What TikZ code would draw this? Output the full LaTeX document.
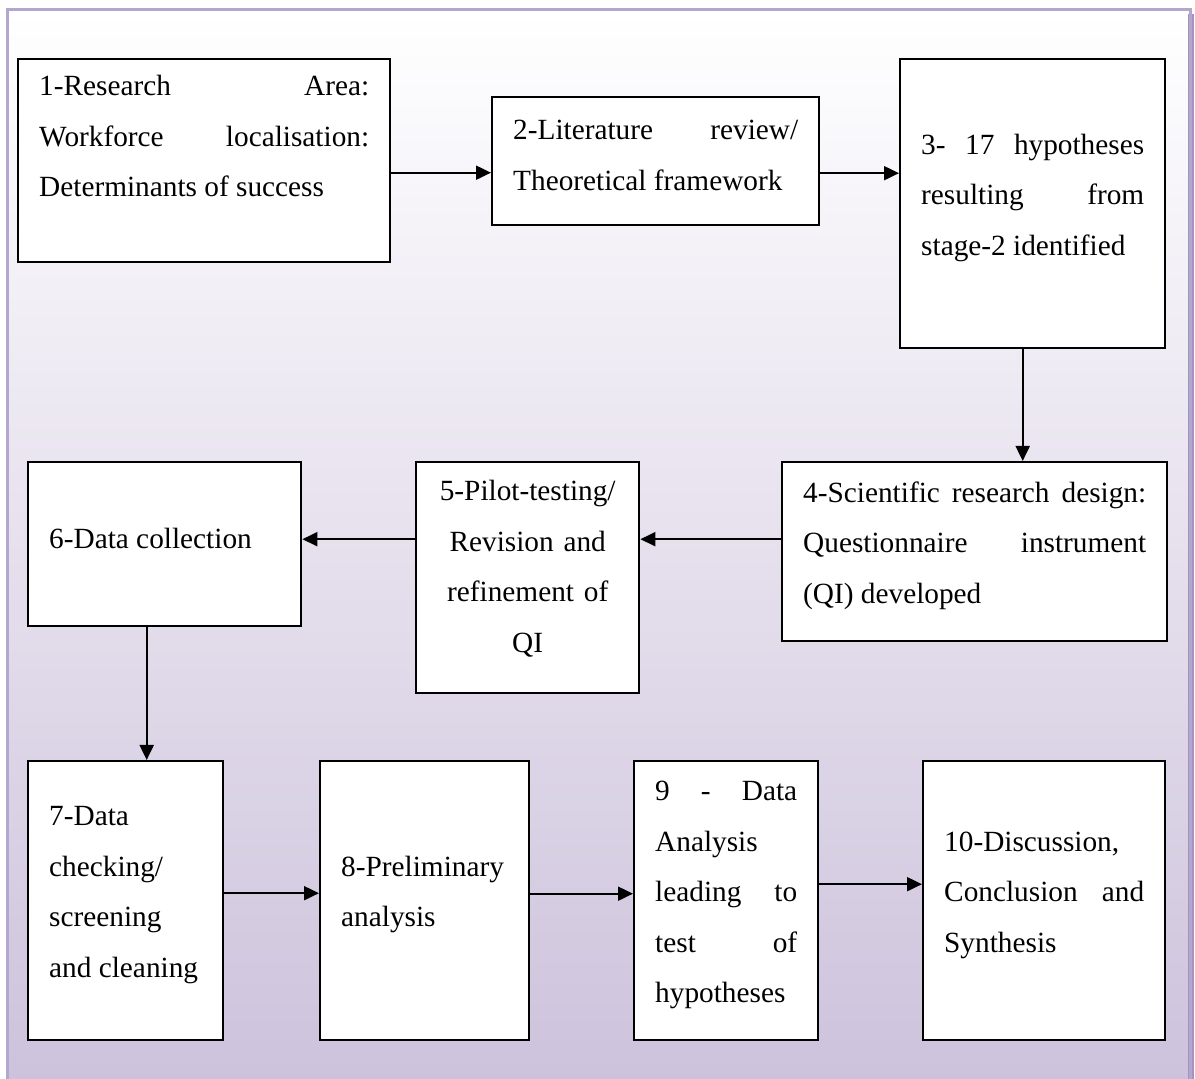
\documentclass[tikz,border=0pt]{standalone}
\usepackage{fontspec}
\usepackage{xcolor}
\usepackage{tikz}
\usetikzlibrary{arrows.meta}
\setmainfont{Liberation Serif}
\definecolor{frameline}{HTML}{B4A7CF}
\definecolor{frameshade}{HTML}{A393BF}
\definecolor{lavender}{HTML}{CCC1DB}
\tolerance=10000
\hbadness=10000
\hyphenpenalty=10000

\begin{document}
\begin{tikzpicture}[x=0.5pt,y=-0.5pt,
  stage/.style={draw, line width=1.2pt, fill=white, anchor=north west,
    align=justify, text height=4pt, font=\fontsize{14.65}{25.25}\selectfont},
  flow/.style={line width=1pt, -{Triangle[length=7.5pt,width=7pt]}}]
  \useasboundingbox (0,0) rectangle (1195,1079);
  \clip (0,0) rectangle (1195,1079);
  \shade[top color=white, bottom color=lavender] (7,10) rectangle (1190,1100);
  \fill[frameshade] (1188,14) rectangle (1194,1100);
  \draw[frameline, line width=1.5pt] (7,10) rectangle (1190,1100);

  \node[stage, text height=0pt, text depth=65pt, minimum width=186pt, minimum height=101.5pt, text width=165pt] (s1) at (17,58)
    {1-Research Area:\linebreak Workforce localisation:\linebreak Determinants of success};
  \node[stage, minimum width=163.5pt, minimum height=64pt, text width=142.5pt] (s2) at (491,96)
    {2-Literature review/\linebreak Theoretical framework};
  \node[stage, minimum width=132.5pt, minimum height=144.5pt, text width=111.5pt] (s3) at (899,58)
    {3- 17 hypotheses\linebreak resulting from\linebreak stage-2 identified};
  \node[stage, minimum width=192.5pt, minimum height=89.5pt, text width=171.5pt] (s4) at (781,461)
    {4-Scientific research design:\linebreak Questionnaire instrument\linebreak (QI) developed};
  \node[stage, align=center, text height=1pt, minimum width=111.5pt, minimum height=115.5pt, text width=100pt] (s5) at (415,461)
    {5-Pilot-testing/\\Revision and\\refinement of\\QI};
  \node[stage, minimum width=136.5pt, minimum height=82pt, text width=115.5pt] (s6) at (27,461)
    {6-Data collection};
  \node[stage, minimum width=97.5pt, minimum height=139.5pt, text width=76.5pt] (s7) at (27,760)
    {7-Data\linebreak checking/\linebreak screening\linebreak and cleaning};
  \node[stage, minimum width=104.5pt, minimum height=139.5pt, text width=83.5pt] (s8) at (319,760)
    {8-Preliminary\linebreak analysis};
  \node[stage, minimum width=92pt, minimum height=139.5pt, text width=71pt] (s9) at (633,760)
    {9 - Data\linebreak Analysis\linebreak leading to\linebreak test of\linebreak hypotheses};
  \node[stage, minimum width=121pt, minimum height=139.5pt, text width=100pt] (s10) at (922,760)
    {10-Discussion,\linebreak Conclusion and\linebreak Synthesis};

  \draw[flow] ([yshift=-6pt]s1.east) -- ([yshift=-6pt]s1.east -| s2.west);
  \draw[flow] ([yshift=-6pt]s2.east) -- ([yshift=-6pt]s2.east -| s3.west);
  \draw[flow] ([xshift=-5pt]s3.south) -- ([xshift=-5pt]s3.south |- s4.north);
  \draw[flow] ([yshift=6.25pt]s4.west) -- ([yshift=6.25pt]s4.west -| s5.east);
  \draw[flow] ([yshift=6.25pt]s4.west -| s5.west) -- ([yshift=6.25pt]s4.west -| s6.east);
  \draw[flow] ([xshift=-9pt]s6.south) -- ([xshift=-9pt]s6.south |- s7.north);
  \draw[flow] ([yshift=3.75pt]s7.east) -- ([yshift=3.75pt]s7.east -| s8.west);
  \draw[flow] ([yshift=3.5pt]s8.east) -- ([yshift=3.5pt]s8.east -| s9.west);
  \draw[flow] ([yshift=8.25pt]s9.east) -- ([yshift=8.25pt]s9.east -| s10.west);
\end{tikzpicture}
\end{document}
